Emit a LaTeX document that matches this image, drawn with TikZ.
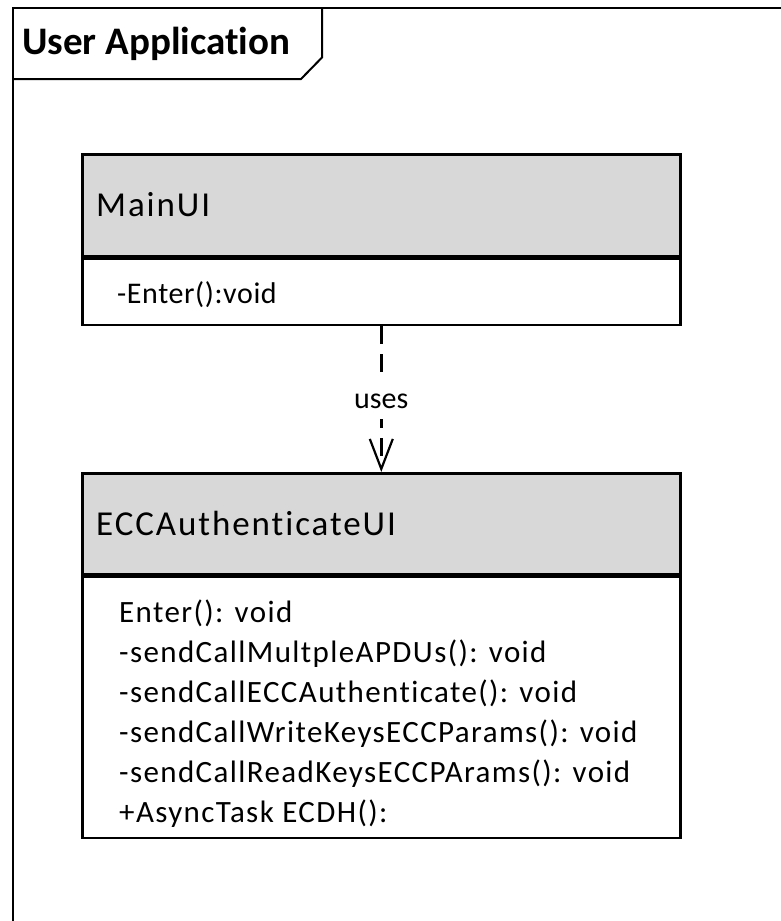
\documentclass[tikz,border=0pt]{standalone}
\usepackage{fontspec}
\setmainfont{Carlito}[Ligatures=NoCommon]
\newfontfamily\namefont{Carlito}[Ligatures=NoCommon, LetterSpace=5.5]
\newfontfamily\memberfont{Carlito}[Ligatures=NoCommon, LetterSpace=4.5]
\newfontfamily\opfont{Carlito}[Ligatures=NoCommon, LetterSpace=2]
\usetikzlibrary{arrows.meta}
\definecolor{headgray}{RGB}{216,216,216}
\begin{document}
\begin{tikzpicture}[x=1pt,y=-1pt,
  frameline/.style={line width=2pt, line join=miter},
  boxline/.style={draw, line width=2.6pt},
  header/.style={boxline, fill=headgray, anchor=north west, inner sep=0pt,
    minimum width=598pt},
  body/.style={boxline, fill=white, anchor=north west, inner sep=0pt,
    minimum width=598pt},
  classname/.style={anchor=base west, inner sep=0pt, font=\namefont\fontsize{35}{42}\selectfont},
  member/.style={anchor=base west, inner sep=0pt, font=\memberfont\fontsize{31}{40}\selectfont},
  depends/.style={line width=2.4pt, dash pattern=on 18pt off 10pt,
    -{Straight Barb[length=30pt, width=23pt, line width=2.2pt]}},
]
\useasboundingbox (0,0) rectangle (781,921);

% package frame with its name tab
\draw[frameline] (12.5,930) -- (12.5,7.5) -- (790,7.5);
\draw[frameline] (12.5,79) -- (301,79) -- (322,57.5) -- (322,7.5);
\node[anchor=base west, inner sep=0pt, font=\bfseries\fontsize{39}{47}\selectfont]
  (title) at (22,54) {User Application};

% class MainUI
\node[header, minimum height=102pt] (mainhead) at (81,153) {};
\node[body, minimum height=66pt] (mainbody) at (mainhead.south west) {};
\node[classname] (mainname) at (96,216) {MainUI};
\node[member, font=\opfont\fontsize{30}{40}\selectfont] (mainop) at (117,303) {-Enter():void};

% class ECCAuthenticateUI
\node[header, minimum height=101pt] (ecchead) at (81,472) {};
\node[body, minimum height=261pt] (eccbody) at (ecchead.south west) {};
\node[classname] (eccname) at (96,535) {ECCAuthenticateUI};
\foreach \op [count=\i from 0] in {%
    Enter(): void,
    -sendCallMultpleAPDUs(): void,
    -sendCallECCAuthenticate(): void,
    -sendCallWriteKeysECCParams(): void,
    -sendCallReadKeysECCPArams(): void,
    +AsyncTask ECDH():}
  \node[member] (eccop\i) at (119,622+40*\i) {\op};

% dependency
\draw[depends] (mainbody.south) --
  node[midway, fill=white, inner xsep=4pt, inner ysep=0pt, text height=29pt,
       text depth=10pt, font=\fontsize{30}{36}\selectfont] (uses) {uses}
  (ecchead.north);
\end{tikzpicture}
\end{document}
